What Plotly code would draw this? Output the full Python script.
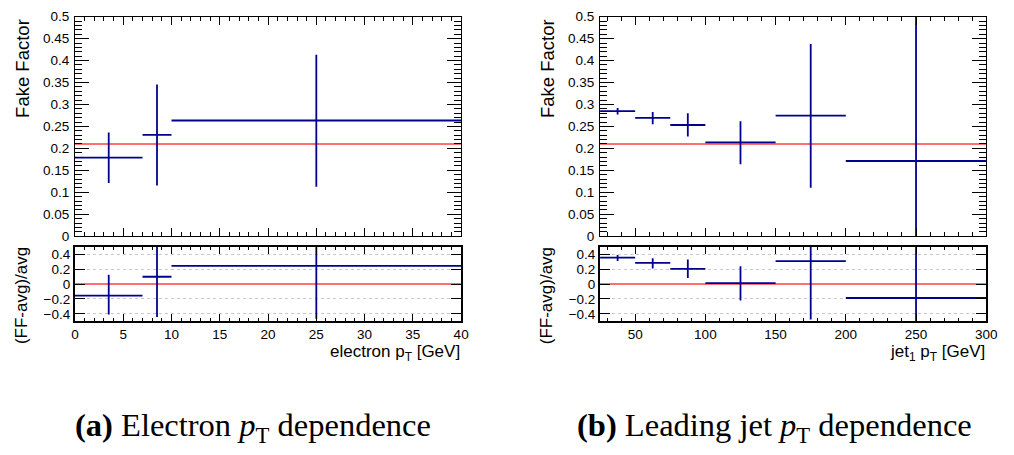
import plotly.graph_objects as go

# ---------------- data ----------------
# Electron pT dependence
ele_lo = [0, 7, 10]
ele_hi = [7, 10, 40]
ele_ff = [0.179, 0.2306, 0.2635]
ele_ff_up = [0.057, 0.115, 0.150]
ele_ff_dn = [0.058, 0.115, 0.151]
ele_avg = 0.210
ele_ratio = [-0.155, 0.098, 0.244]
ele_ratio_up = [0.279, 0.55, 0.73]
ele_ratio_dn = [0.255, 0.542, 0.711]

# Leading jet pT dependence
jet_lo = [25, 50, 75, 100, 150, 200]
jet_hi = [50, 75, 100, 150, 200, 300]
jet_ff = [0.2848, 0.2694, 0.2533, 0.2138, 0.2745, 0.1713]
jet_ff_up = [0.0072, 0.0136, 0.0267, 0.0482, 0.1633, 0.35]
jet_ff_dn = [0.0078, 0.0146, 0.0263, 0.0498, 0.1640, 0.35]
jet_avg = 0.210
jet_ratio = [0.356, 0.284, 0.204, 0.013, 0.307, -0.187]
jet_ratio_up = [0.034, 0.063, 0.125, 0.227, 0.6, 0.8]
jet_ratio_dn = [0.046, 0.075, 0.124, 0.235, 0.783, 0.8]

ele_range = [0, 40]
jet_range = [25, 300]

BLUE = "#00008f"
RED = "#ff6f6f"
FONT = "Liberation Sans, Arial, sans-serif"

fig = go.Figure()


def centers(lo, hi):
    return [(a + b) / 2 for a, b in zip(lo, hi)]


def halfw(lo, hi):
    return [(b - a) / 2 for a, b in zip(lo, hi)]


def add_points(x, y, ex, up, dn, xa, ya):
    fig.add_trace(go.Scatter(
        x=x, y=y, mode="markers", xaxis=xa, yaxis=ya,
        marker=dict(size=0.1, color=BLUE, opacity=0),
        error_x=dict(type="data", array=ex, symmetric=True, width=0,
                     color=BLUE, thickness=1.8),
        error_y=dict(type="data", array=up, arrayminus=dn, symmetric=False,
                     width=0, color=BLUE, thickness=1.8),
        showlegend=False, hoverinfo="skip"))


def add_hline(rng, val, xa, ya):
    fig.add_trace(go.Scatter(
        x=rng, y=[val, val], mode="lines", xaxis=xa, yaxis=ya,
        line=dict(color=RED, width=2), showlegend=False, hoverinfo="skip"))


# left panel
add_hline(ele_range, ele_avg, "x", "y")
add_points(centers(ele_lo, ele_hi), ele_ff, halfw(ele_lo, ele_hi),
           ele_ff_up, ele_ff_dn, "x", "y")
add_hline(ele_range, 0, "x2", "y2")
add_points(centers(ele_lo, ele_hi), ele_ratio, halfw(ele_lo, ele_hi),
           ele_ratio_up, ele_ratio_dn, "x2", "y2")
# right panel
add_hline(jet_range, jet_avg, "x3", "y3")
add_points(centers(jet_lo, jet_hi), jet_ff, halfw(jet_lo, jet_hi),
           jet_ff_up, jet_ff_dn, "x3", "y3")
add_hline(jet_range, 0, "x4", "y4")
add_points(centers(jet_lo, jet_hi), jet_ratio, halfw(jet_lo, jet_hi),
           jet_ratio_up, jet_ratio_dn, "x4", "y4")

W, H = 1014, 455


def px(v):
    return v / W


def py(v):
    return (H - v) / H


LX = [px(72), px(464)]
RX = [px(605), px(997)]
TOP = [py(237), py(10)]
BOT = [py(325), py(248)]

tickfont = dict(family=FONT, size=13.5, color="#000")

common = dict(showline=True, linecolor="black", mirror="allticks",
              ticks="inside", tickcolor="black", showgrid=False,
              zeroline=False, tickfont=tickfont, fixedrange=True)


def xaxis_cfg(domain, rng, dtick, mdtick, labels, anchor, lw):
    return dict(common, domain=domain, range=rng, dtick=dtick, tick0=0,
                ticklen=8 if not labels else 7, linewidth=lw,
                showticklabels=labels, anchor=anchor,
                minor=dict(ticks="inside", dtick=mdtick, tick0=0,
                           ticklen=4 if not labels else 3.5,
                           tickcolor="black"))


def ytop_cfg(domain, anchor):
    return dict(common, domain=domain, range=[0, 0.5], dtick=0.05, tick0=0,
                ticklen=14, linewidth=1, anchor=anchor,
                ticklabelstandoff=2,
                minor=dict(ticks="inside", dtick=0.01, tick0=0, ticklen=7,
                           tickcolor="black"))


def ybot_cfg(domain, anchor):
    return dict(common, domain=domain, range=[-0.5, 0.5],
                ticklen=10, linewidth=2, anchor=anchor,
                showgrid=True, gridcolor="#c8c8c8", griddash="dot",
                gridwidth=1, tickvals=[-0.4, -0.2, 0, 0.2, 0.4],
                ticktext=["\u22120.4", "\u22120.2", "0", "0.2", "0.4"])


fig.update_layout(
    width=W, height=H, margin=dict(l=0, r=0, t=0, b=0),
    paper_bgcolor="white", plot_bgcolor="white",
    xaxis=xaxis_cfg(LX, ele_range, 5, 1, False, "y", 1),
    yaxis=ytop_cfg(TOP, "x"),
    xaxis2=xaxis_cfg(LX, ele_range, 5, 1, True, "y2", 2),
    yaxis2=ybot_cfg(BOT, "x2"),
    xaxis3=xaxis_cfg(RX, jet_range, 50, 10, False, "y3", 1),
    yaxis3=ytop_cfg(TOP, "x3"),
    xaxis4=xaxis_cfg(RX, jet_range, 50, 10, True, "y4", 2),
    yaxis4=ybot_cfg(BOT, "x4"),
)

titlefont = dict(family=FONT, size=17, color="#000")
ann = []
for xc in [18, 551]:
    ann.append(dict(text="Fake Factor", x=px(xc), y=py(10), xref="paper",
                    yref="paper", xanchor="center", yanchor="top",
                    textangle=-90, showarrow=False,
                    font=dict(family=FONT, size=18.5, color="#000")))
    ann.append(dict(text="(FF-avg)/avg", x=px(xc), y=py(246), xref="paper",
                    yref="paper", xanchor="center", yanchor="top",
                    textangle=-90, showarrow=False, font=titlefont))
ann.append(dict(text="electron p<sub>T</sub> [GeV]", x=px(465), y=py(344),
                xref="paper", yref="paper", xanchor="right", yanchor="top",
                showarrow=False, font=titlefont))
ann.append(dict(text="jet<sub>1</sub> p<sub>T</sub> [GeV]", x=px(998),
                y=py(344), xref="paper", yref="paper", xanchor="right",
                yanchor="top", showarrow=False, font=titlefont))
capfont = dict(family="Liberation Serif, Times New Roman, serif", size=32.5,
               color="#000")
ann.append(dict(text="<b>(a)</b> Electron <i>p</i><sub>T</sub> dependence",
                x=px(253), y=py(435), xref="paper", yref="paper",
                xanchor="center", yanchor="middle", showarrow=False,
                font=capfont))
ann.append(dict(text="<b>(b)</b> Leading jet <i>p</i><sub>T</sub> dependence",
                x=px(782), y=py(435), xref="paper", yref="paper",
                xanchor="center", yanchor="middle", showarrow=False,
                font=capfont))
fig.update_layout(annotations=ann)

fig.write_html("out.html")
